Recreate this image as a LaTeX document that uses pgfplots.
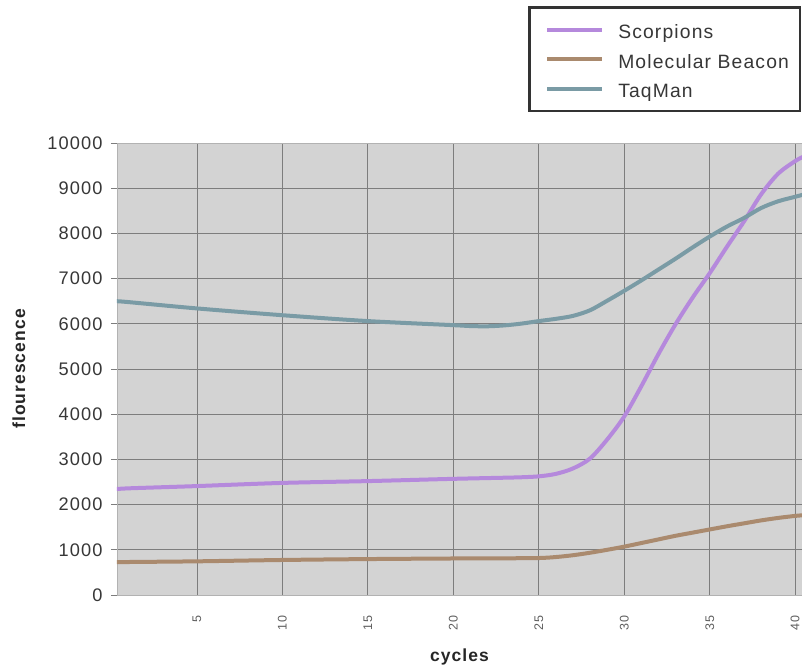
\documentclass[border=0pt]{standalone}
\usepackage{pgfplots}
\pgfplotsset{compat=1.18}
\usepackage{fontspec}
\setmainfont{Liberation Sans}[LetterSpace=6]
\definecolor{scorp}{RGB}{181,137,220}
\definecolor{beacon}{RGB}{170,138,110}
\definecolor{taq}{RGB}{122,155,165}
\definecolor{bg}{RGB}{211,211,211}
\definecolor{gridc}{RGB}{125,125,125}
\definecolor{txt}{RGB}{55,55,55}
\pgfplotstableread{
x y
0.3 2345
1 2360
3 2385
5 2410
10 2480
15 2520
20 2570
23 2595
24 2605
25 2625
26 2680
27 2800
28 3020
29 3440
30 3950
31 4620
32 5330
33 5990
34 6580
35 7120
36 7700
37 8260
38 8860
39 9320
40 9600
40.5 9700
}\scorpions
\pgfplotstableread{
x y
0.3 725
1 730
5 745
10 775
15 795
20 808
23 812
25 818
26 840
27 880
28 935
29 1000
30 1070
31 1150
32 1230
33 1310
34 1380
35 1450
36 1520
37 1585
38 1650
39 1705
40 1750
40.5 1765
}\beacon
\pgfplotstableread{
x y
0.3 6500
1 6480
5 6340
10 6190
15 6060
20 5970
21 5950
22 5945
23 5965
24 6005
25 6060
26 6110
27 6175
28 6300
29 6510
30 6730
31 6960
32 7200
33 7440
34 7690
35 7930
36 8150
37 8340
38 8560
39 8710
40 8810
40.5 8860
}\taqman
\begin{document}
\begin{tikzpicture}
\begin{axis}[
  at={(0pt,0pt)}, anchor=south west,
  width=685pt, height=452pt, scale only axis,
  xmin=0.32, xmax=40.4, ymin=0, ymax=10000,
  xtick={5,10,...,40}, ytick={0,1000,...,10000},
  scaled y ticks=false,
  grid=major, grid style={gridc, line width=0.8pt},
  axis background/.style={fill=bg},
  axis line style={gray!60, line width=0.8pt},
  tick align=outside,
  xtick style={draw=none},
  ytick style={gridc, line width=0.8pt},
  major tick length=6pt,
  /pgf/number format/assume math mode=true,
  /pgf/number format/1000 sep={},
  yticklabel style={font=\fontsize{18.2}{20}\selectfont, text=txt, xshift=-5pt},
  xticklabel style={font=\fontsize{12.5}{14}\selectfont, text=txt!80, rotate=90, anchor=east, xshift=-11pt},
  every axis y label/.style={at={(axis description cs:-0.1431,0.5)}, rotate=90, anchor=center, font=\fontsize{17.5}{19}\selectfont\bfseries, text=black!85},
  every axis x label/.style={at={(axis description cs:0.5,-0.137)}, anchor=center, font=\fontsize{17.5}{19}\selectfont\bfseries, text=black!85},
  xlabel={cycles}, ylabel={flourescence},
  legend style={at={(0.6,1.302)}, anchor=north west, draw=black!80, line width=2.5pt, fill=white,
    font=\fontsize{19.3}{21}\selectfont, text=txt, inner xsep=4pt, inner ysep=7.5pt,
    nodes={inner xsep=7pt, inner ysep=5pt, text height=18.3pt, text depth=1.2pt}},
  legend cell align=left,
  legend image code/.code={\path[draw=none,fill=none] (0pt,0pt) (78pt,0pt); \draw[#1] (14pt,0pt) -- (69pt,0pt);},
  every axis plot/.append style={line width=4pt, smooth},
]
\addplot[scorp] table {\scorpions};
\addlegendentry{Scorpions}
\addplot[beacon] table {\beacon};
\addlegendentry{Molecular Beacon}
\addplot[taq] table {\taqman};
\addlegendentry{TaqMan}
\end{axis}
\pgfresetboundingbox
\path[use as bounding box] (-117pt,-75pt) rectangle (685pt,595pt);
\end{tikzpicture}
\end{document}
